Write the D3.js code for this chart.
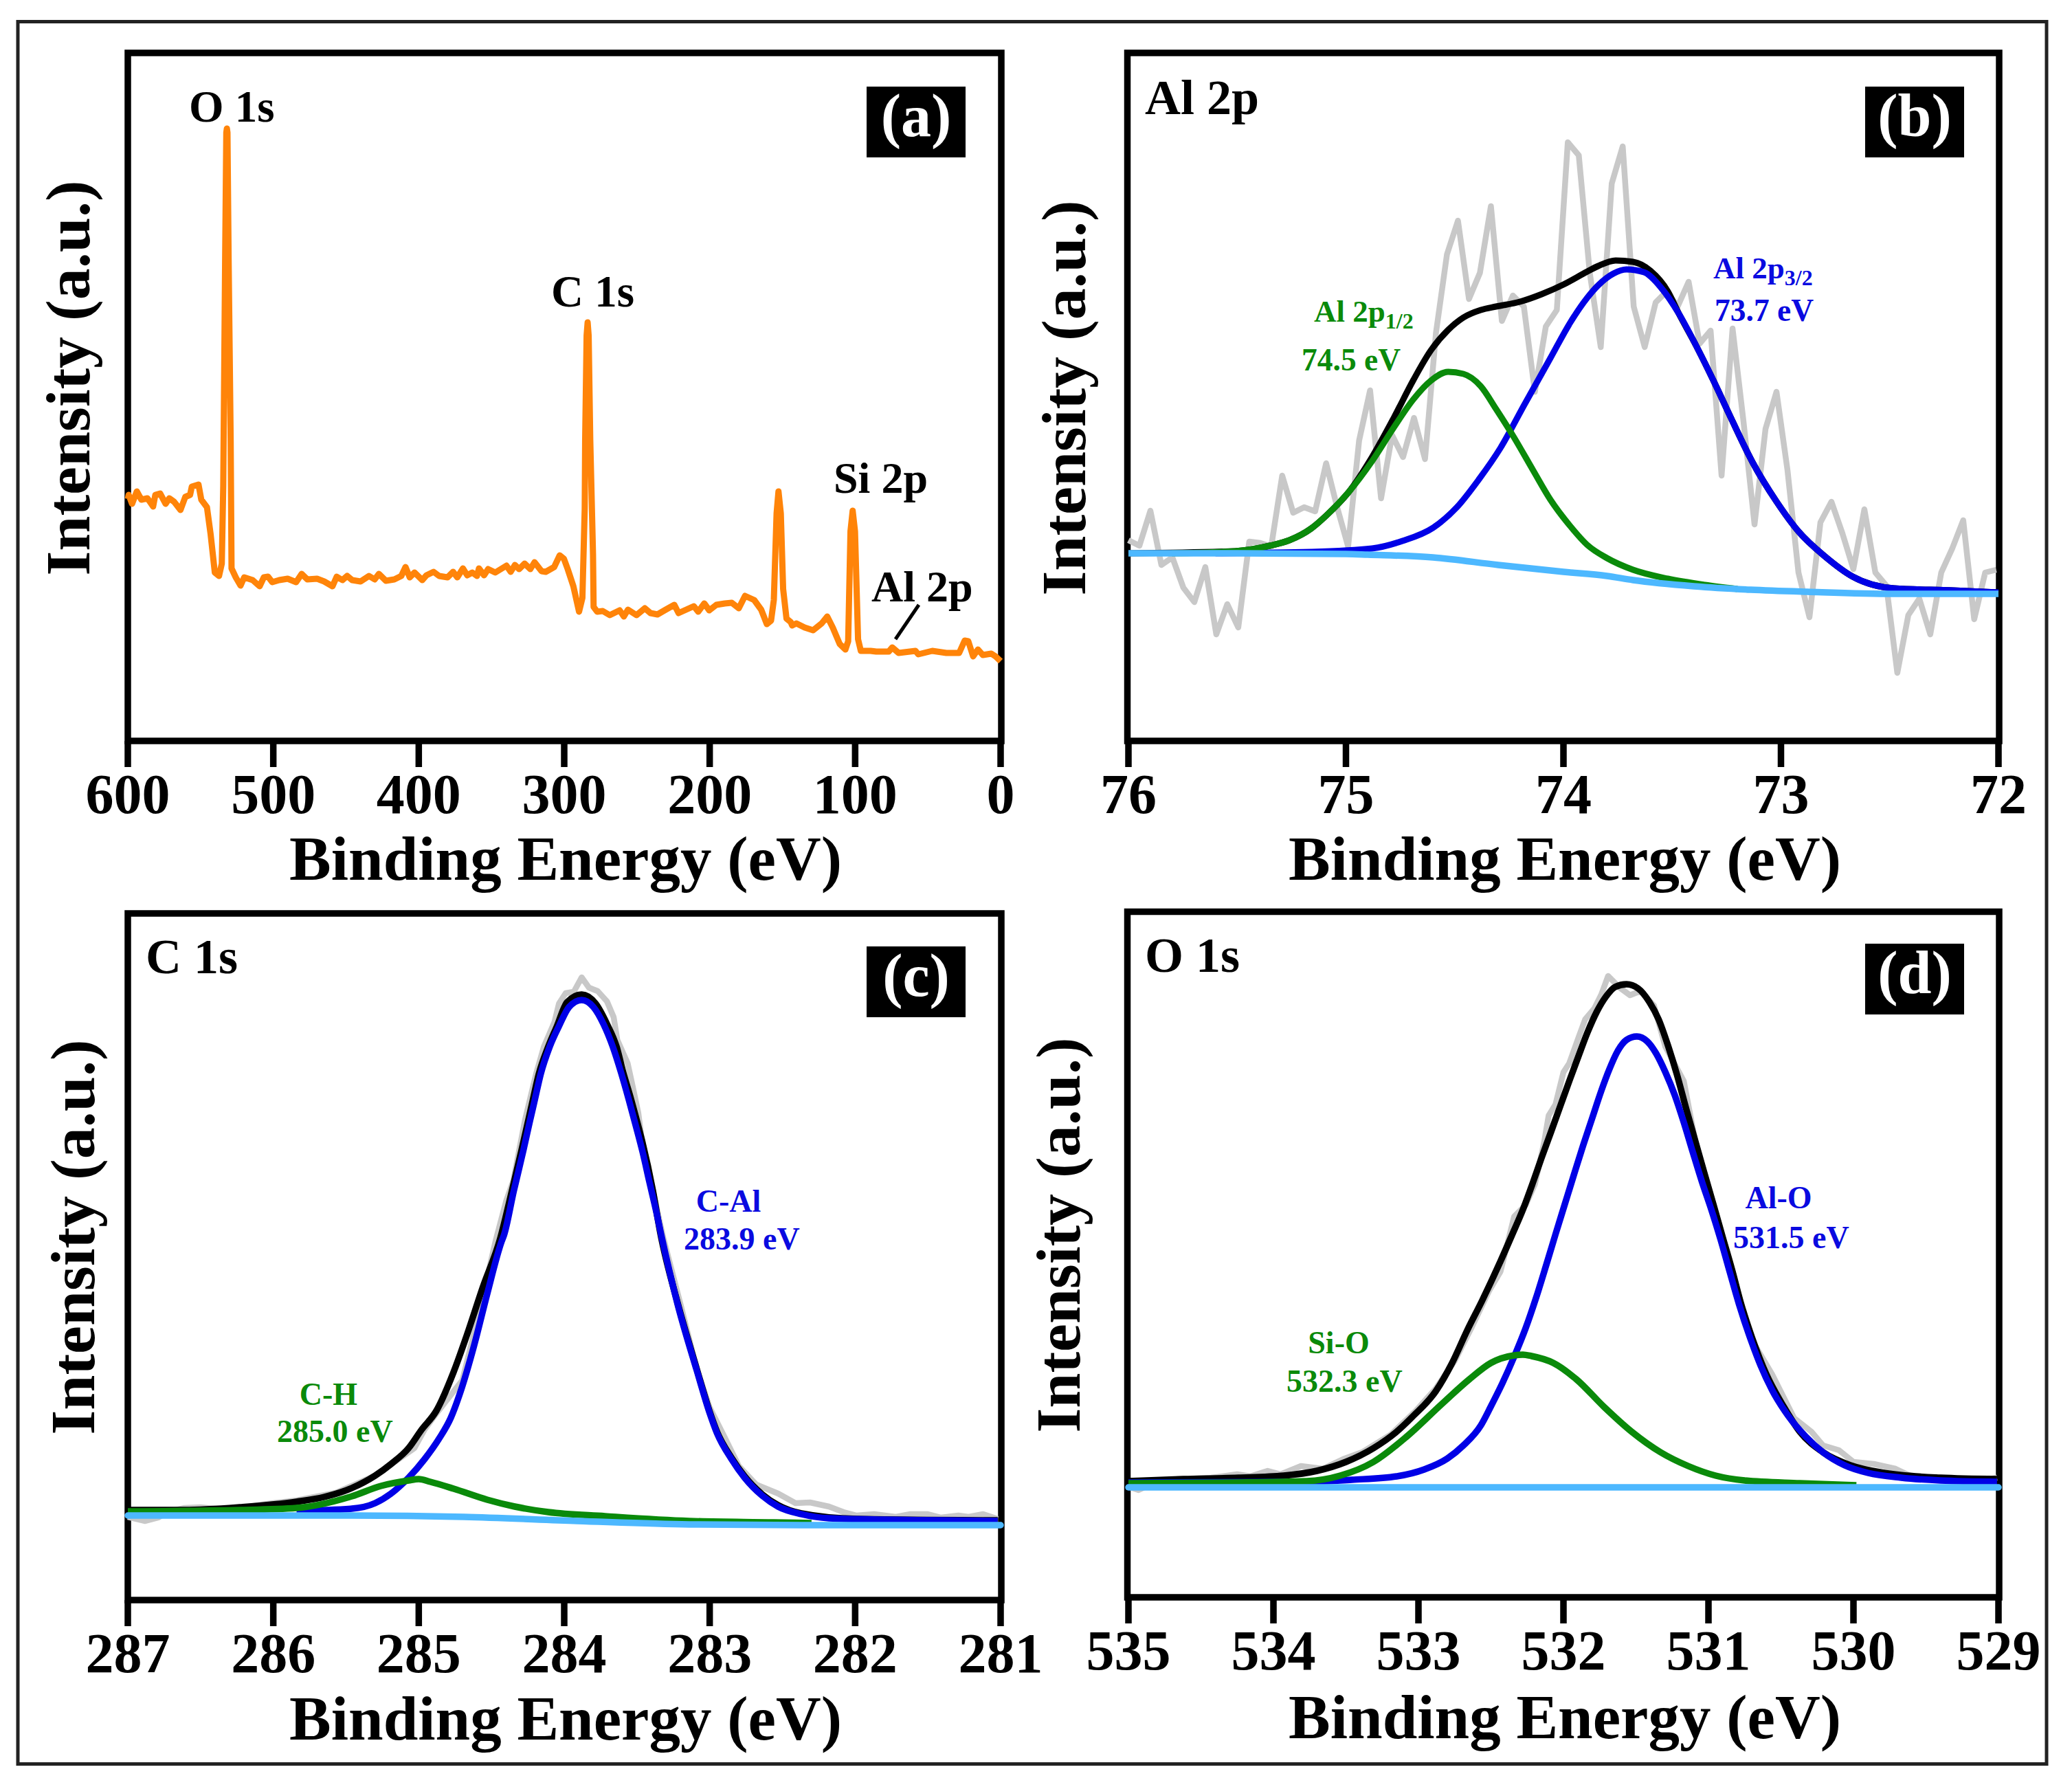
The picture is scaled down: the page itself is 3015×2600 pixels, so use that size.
<!DOCTYPE html>
<html><head><meta charset="utf-8">
<script src="https://cdnjs.cloudflare.com/ajax/libs/d3/7.8.5/d3.min.js"></script>
<style>html,body{margin:0;padding:0;background:#fff}svg{display:block}text{font-family:"Liberation Serif",serif;font-weight:700}</style>
</head><body><svg id="c" width="3015" height="2600"></svg>
<script>
// ---------- data (binding energy in eV, intensity in a.u.) ----------
const surveySeries = [[600,352],[599.4,358],[597.1,345],[593.8,363],[590.7,351],[586.5,353],[582.6,341],[581.1,358],[577.8,360],[574,345],[571.5,353],[568.2,348],[563.8,336],[560.5,355],[557.2,358],[556,370],[551.4,373],[549.5,351],[545.6,340],[543.1,301],[540.2,245],[537.3,240],[535.4,258],[534.4,371],[533.1,700],[532.3,885],[531.9,891],[531.5,885],[530.7,700],[529.3,438],[528.7,251],[525.8,238],[522.5,226],[520,238],[514.2,234],[509.4,225],[506.5,238],[503.6,239],[500.7,231],[495.9,234],[490.1,236],[484.3,231],[480.5,243],[476.6,235],[469.9,236],[465,232],[459.3,225],[456.4,239],[452.5,234],[449.2,240],[445.8,234],[440,232],[434.2,240],[430.3,235],[427.4,243],[422.6,233],[416.8,235],[412,240],[409.1,253],[406.2,238],[402.9,245],[397.6,234],[394.7,241],[389.8,246],[386,240],[380.2,238],[376.4,246],[373.5,238],[369.6,251],[366.7,241],[363.2,245],[360,240],[358.6,251],[355.1,241],[352.3,250],[347.4,245],[339.7,255],[336.8,246],[333.9,256],[331,250],[327.2,258],[323.3,250],[320.4,260],[315.6,247],[312.7,246],[306.9,253],[303.1,270],[300.2,265],[297.6,250],[293.7,225],[289.8,188],[287.5,208],[285.9,338],[285.6,438],[284.6,590],[283.9,609],[283.2,590],[282.1,438],[280.2,271],[279.8,195],[277.3,188],[273.5,189],[268.7,183],[261.9,190],[259,181],[256.2,191],[250.3,183],[244.6,193],[240.7,186],[235.9,184],[230.2,191],[224.3,198],[221.4,186],[210.9,196],[207.9,188],[203.7,200],[200.3,190],[195.4,198],[189.6,200],[184.8,201],[180,193],[175.7,211],[169.4,205],[164.6,191],[160.7,170],[157.8,175],[155.9,205],[154,331],[152.7,363],[151.1,331],[149.5,221],[147.2,178],[144.3,173],[143.3,168],[140.4,171],[134.7,165],[128.9,161],[123,171],[119.2,181],[115.4,165],[110.6,141],[106.7,133],[104.8,145],[103.2,305],[101.7,335],[100.1,305],[98,148],[96.1,131],[89.4,131],[85.5,130],[76.9,130],[74.5,136],[70.1,128],[58.5,131],[56.6,126],[47,131],[37.3,128],[28.5,128],[24.7,146],[22.2,145],[18.9,123],[15.6,133],[12.2,125],[6.4,127],[3.5,123],[0,116]];

const alRawStep = 0.0505;
const alRawValues = [292,284,335,256,267,223,202,253,155,199,165,290,288,283,386,332,340,334,404,340,283,437,510,353,445,413,470,410,594,708,757,643,681,778,611,648,632,508,603,627,871,852,681,573,811,865,632,573,638,654,632,668,578,597,386,600,464,315,454,508,394,245,180,318,348,302,250,337,245,226,99,183,207,155,245,280,321,177,245,249];
const alEnvelope = [[76,273],[75.51,276],[75.35,284],[75.26,292],[75.16,309],[75.09,328],[74.99,361],[74.88,413],[74.78,470],[74.69,525],[74.61,568],[74.53,598],[74.46,616],[74.38,627],[74.31,632],[74.2,639],[74.1,650],[74,664],[73.89,683],[73.84,691],[73.76,699],[73.68,697],[73.6,684],[73.52,654],[73.47,622],[73.39,575],[73.31,524],[73.23,470],[73.13,405],[73.02,348],[72.92,305],[72.8,269],[72.67,239],[72.48,222],[72.21,219],[72,216]];
const al2p32 = [[75.6,273],[75.16,275],[74.88,280],[74.74,291],[74.6,310],[74.49,340],[74.39,380],[74.29,426],[74.18,489],[74.06,557],[73.97,608],[73.89,645],[73.84,663],[73.77,680],[73.71,686],[73.63,682],[73.55,659],[73.47,622],[73.39,575],[73.31,524],[73.23,470],[73.13,405],[73.02,348],[72.92,305],[72.8,269],[72.67,239],[72.48,222],[72.21,219],[72,216]];
const al2p12 = [[75.8,273],[75.51,276],[75.35,284],[75.26,292],[75.16,309],[75.09,328],[74.99,361],[74.88,407],[74.78,456],[74.69,497],[74.61,524],[74.53,537],[74.46,534],[74.38,516],[74.31,483],[74.23,443],[74.14,394],[74.06,351],[73.97,313],[73.89,285],[73.8,266],[73.68,249],[73.52,236],[73.35,227],[73.2,221]];
const alBackground = [[76,273],[75.5,273],[75,272],[74.9,271],[74.6,267],[74.3,256],[74,246],[73.8,240],[73.68,234],[73.4,225],[73.14,220],[72.88,217],[72.48,214],[72,214]];

const cRaw = [[287,121],[286.88,115],[286.79,120],[286.73,128],[286.61,134],[286.5,135],[286.31,131],[286.04,140],[285.84,145],[285.57,156],[285.3,181],[285.03,221],[284.96,248],[284.88,271],[284.7,320],[284.6,405],[284.47,524],[284.4,580],[284.35,610],[284.27,698],[284.194,765],[284.14,805],[284.067,841],[284.036,868],[283.99,883],[283.934,885],[283.88,906],[283.83,891],[283.77,886],[283.706,871],[283.66,848],[283.635,815],[283.564,781],[283.53,748],[283.49,708],[283.47,675],[283.39,595],[283.32,528],[283.2,430],[283.09,337],[283,280],[282.9,238],[282.8,195],[282.68,168],[282.53,155],[282.41,141],[282.31,142],[282.18,136],[282.08,128],[281.99,123],[281.87,125],[281.72,121],[281.62,125],[281.5,125],[281.41,120],[281.29,123],[281.22,121],[281.12,125],[281.02,118]];
const cEnvelope = [[287,131],[286.61,131],[286.23,135],[285.84,143],[285.65,150],[285.46,163],[285.3,181],[285.19,198],[285.07,221],[284.98,248],[284.88,275],[284.76,332],[284.67,385],[284.56,455],[284.44,526],[284.36,595],[284.293,655],[284.25,695],[284.215,728],[284.175,765],[284.11,805],[284.05,835],[283.98,870],[283.88,881],[283.785,868],[283.706,838],[283.64,805],[283.595,768],[283.54,728],[283.39,595],[283.34,535],[283.22,432],[283.09,337],[283,274],[282.95,245],[282.85,207],[282.76,180],[282.64,154],[282.53,138],[282.37,126],[281.99,118],[281.02,116]];
const cAl = [[285.84,130],[285.46,133],[285.3,141],[285.19,155],[285.07,178],[284.96,205],[284.86,235],[284.78,265],[284.71,305],[284.62,370],[284.53,445],[284.43,522],[284.414,531],[284.347,595],[284.28,655],[284.238,695],[284.202,728],[284.162,765],[284.1,805],[284.036,835],[283.966,863],[283.88,873],[283.8,863],[283.73,838],[283.666,805],[283.61,768],[283.556,728],[283.509,691],[283.46,651],[283.414,608],[283.367,565],[283.335,533],[283.22,430],[283.09,335],[283,272],[282.95,243],[282.85,205],[282.76,178],[282.64,152],[282.53,136],[282.37,125],[282.18,119],[281.8,117],[281.41,116],[281.02,115]];
const cH = [[287,129],[286.23,131],[285.84,134],[285.46,151],[285.26,166],[285.07,174],[285,176],[284.92,172],[284.76,162],[284.53,146],[284.34,136],[284.11,128],[283.72,122],[283.14,115],[282.56,113],[282.3,112]];
const cBackground = [[287,123],[285.46,123],[284.69,121],[283.91,115],[283.14,110],[282.37,109],[281,109]];

const oRaw = [[535,161],[534.93,156],[534.85,164],[534.66,172],[534.43,174],[534.25,179],[534.16,176],[534.04,184],[533.95,179],[533.81,191],[533.66,187],[533.52,201],[533.39,211],[533.19,237],[533.02,271],[532.88,304],[532.75,344],[532.63,394],[532.51,447],[532.434,474],[532.387,514],[532.34,554],[532.26,571],[532.197,601],[532.134,661],[532.102,701],[532.055,717],[532,764],[531.96,777],[531.897,814],[531.85,841],[531.786,857],[531.739,877],[531.692,904],[531.612,887],[531.541,876],[531.47,882],[531.376,861],[531.297,801],[531.17,751],[531.091,664],[531.028,617],[530.965,571],[530.902,524],[530.838,477],[530.775,427],[530.7,374],[530.56,324],[530.41,261],[530.29,241],[530.21,221],[530.1,214],[530,197],[529.86,194],[529.71,187],[529.61,177],[529.4,172],[529.09,171],[529.01,174]];
const oEnvelope = [[535,169],[534.62,172],[534.24,174],[533.93,177],[533.7,184],[533.5,197],[533.31,217],[533.15,241],[533.04,263],[532.88,300],[532.77,340],[532.66,390],[532.56,432],[532.497,460],[532.434,489],[532.355,527],[532.276,566],[532.213,602],[532.15,640],[532.086,677],[532.023,714],[531.96,751],[531.897,787],[531.834,822],[531.77,852],[531.707,874],[531.644,888],[531.565,892],[531.486,886],[531.407,866],[531.344,841],[531.281,804],[531.218,761],[531.154,711],[531.091,664],[531.028,617],[530.965,571],[530.902,524],[530.838,477],[530.775,427],[530.7,378],[530.6,324],[530.48,277],[530.37,241],[530.21,211],[530.02,192],[529.79,181],[529.4,174],[529.01,172]];
const oAl = [[535,167],[533.77,168],[533.46,171],[533.15,176],[532.96,186],[532.8,202],[532.69,221],[532.57,250],[532.5,278],[532.42,312],[532.34,350],[532.26,392],[532.19,435],[532.118,484],[532.055,528],[531.992,571],[531.929,614],[531.865,657],[531.802,697],[531.739,737],[531.684,768],[531.628,794],[531.565,811],[531.494,816],[531.423,809],[531.36,791],[531.297,764],[531.233,731],[531.17,691],[531.107,647],[531.044,604],[530.98,564],[530.917,521],[530.854,474],[530.79,427],[530.7,370],[530.64,337],[530.56,301],[530.45,264],[530.33,234],[530.21,211],[530.06,192],[529.9,181],[529.67,174],[529.4,170],[529.01,168]];
const oSi = [[535,166],[534.24,167],[533.77,169],[533.54,177],[533.31,197],[533.08,234],[532.84,281],[532.65,317],[532.5,341],[532.34,352],[532.28,353],[532.22,351],[532.07,341],[531.91,317],[531.72,277],[531.53,241],[531.33,211],[531.14,191],[530.95,177],[530.75,170],[530.37,166],[529.98,163]];
const oBackground = [[535,160],[532,160],[529,160]];

const ticksA = [600,500,400,300,200,100,0];
const ticksB = [76,75,74,73,72];
const ticksC = [287,286,285,284,283,282,281];
const ticksD = [535,534,533,532,531,530,529];

const GRAY="#c8c8c8",BLACK="#000",BLUE="#0000e6",GREEN="#0a8a0a",SKY="#4db8ff",ORANGE="#ff8409";
const TBLUE="#0a0ae0",TGREEN="#0a8a0a";

const svg=d3.select("#c");
svg.append("rect").attr("width",3015).attr("height",2600).attr("fill","#fff");
svg.append("rect").attr("x",26).attr("y",31.5).attr("width",2952).attr("height",2535).attr("fill","none").attr("stroke","#222").attr("stroke-width",5);

function text(g,s,x,y,size,fill,anchor){
  return g.append("text").attr("x",x).attr("y",y).attr("font-size",size).attr("fill",fill||"#000").attr("text-anchor",anchor||"start").text(s);
}
function sub(g,a,b,x,y,size,subSize,fill){
  const t=g.append("text").attr("x",x).attr("y",y).attr("font-size",size).attr("fill",fill);
  t.append("tspan").text(a);
  t.append("tspan").attr("dy",size*0.22).attr("font-size",subSize).text(b);
}

function panel(o){
  const g=svg.append("g");
  const x=d3.scaleLinear().domain(o.xDom).range([o.l,o.r]);
  const y=d3.scaleLinear().domain([0,o.b-o.t]).range([o.b,o.t]);
  g.append("rect").attr("x",o.fl).attr("y",o.t).attr("width",o.fr-o.fl).attr("height",o.b-o.t).attr("fill","none").attr("stroke","#000").attr("stroke-width",9.5);
  const ax=d3.axisBottom(x).tickValues(o.ticks).tickFormat(d3.format("d")).tickSize(38).tickPadding(o.pad).offset(0);
  const a=g.append("g").attr("transform",`translate(0,${o.b})`).call(ax);
  a.select(".domain").remove();
  a.selectAll("line").attr("stroke","#000").attr("stroke-width",9.5);
  a.selectAll("text").attr("font-size",82).attr("fill","#000").attr("font-family",'"Liberation Serif",serif');
  text(g,"Binding Energy (eV)",o.xlX,o.xlY,91,"#000","middle");
  g.append("text").attr("transform",`translate(${o.ylX},${o.ylY}) rotate(-90)`).attr("font-size",92).attr("text-anchor","middle").attr("fill","#000").text("Intensity (a.u.)");
  g.append("rect").attr("x",o.badge[0]).attr("y",o.badge[1]).attr("width",144).attr("height",103).attr("fill","#000");
  text(g,o.tag,o.badge[0]+72,o.badge[1]+72,88,"#fff","middle");
  o.series.forEach(s=>{
    const line=d3.line().x(d=>x(d[0])).y(d=>y(d[1])).curve(s.smooth?d3.curveMonotoneX:d3.curveLinear);
    g.append("path").attr("d",line(s.data)).attr("fill","none").attr("stroke",s.color).attr("stroke-width",s.w).attr("stroke-linejoin","round").attr("stroke-linecap",s.cap||"butt");
  });
  return g;
}

// (a) survey
const ga=panel({xDom:[600,0],l:186,r:1456,fl:186,fr:1457,t:77,b:1078,ticks:ticksA,pad:9,xlX:823,xlY:1280,ylX:130,ylY:550,badge:[1261,126],tag:"(a)",
  series:[{data:surveySeries,color:ORANGE,w:9}]});
text(ga,"O 1s",275,177,65);
text(ga,"C 1s",802,446,65);
text(ga,"Si 2p",1213,717,64);
text(ga,"Al 2p",1268,875,64);
ga.append("line").attr("x1",1337).attr("y1",880).attr("x2",1303).attr("y2",930).attr("stroke","#000").attr("stroke-width",5);

// (b) Al 2p
const alRaw=alRawValues.map((v,i)=>[76-i*alRawStep,v]);
const gb=panel({xDom:[76,72],l:1642,r:2908,fl:1640.5,fr:2909,t:77,b:1078,ticks:ticksB,pad:9,xlX:2277,xlY:1280,ylX:1579,ylY:579,badge:[2714,126],tag:"(b)",
  series:[{data:alRaw,color:GRAY,w:8.5},
          {data:alEnvelope,color:BLACK,w:9,smooth:true},
          {data:al2p32,color:BLUE,w:9,smooth:true},
          {data:al2p12,color:GREEN,w:9,smooth:true},
          {data:alBackground,color:SKY,w:9.5,smooth:true}]});
text(gb,"Al 2p",1666,166,72);
sub(gb,"Al 2p","1/2",1912,468,45,32,TGREEN);
text(gb,"74.5 eV",1894,539,45.5,TGREEN);
sub(gb,"Al 2p","3/2",2493,405,45,32,TBLUE);
text(gb,"73.7 eV",2495,467,45.5,TBLUE);

// (c) C 1s
const gc=panel({xDom:[287,281],l:186,r:1456,fl:186,fr:1457,t:1329,b:2328,ticks:ticksC,pad:9,xlX:823,xlY:2531,ylX:137,ylY:1800,badge:[1261,1377],tag:"(c)",
  series:[{data:cRaw,color:GRAY,w:8.5},
          {data:cEnvelope,color:BLACK,w:9.5,smooth:true},
          {data:cAl,color:BLUE,w:9.5,smooth:true},
          {data:cH,color:GREEN,w:9.5,smooth:true},
          {data:cBackground,color:SKY,w:9.5,smooth:true,cap:"round"}]});
text(gc,"C 1s",212,1416,72);
text(gc,"C-H",478,2044,46,TGREEN,"middle");
text(gc,"285.0 eV",403,2098,46,TGREEN);
text(gc,"C-Al",1060,1763,46,TBLUE,"middle");
text(gc,"283.9 eV",995,1818,46,TBLUE);

// (d) O 1s
const gd=panel({xDom:[535,529],l:1642,r:2908,fl:1640.5,fr:2909,t:1326.5,b:2324,ticks:ticksD,pad:9,xlX:2277,xlY:2529,ylX:1571,ylY:1797,badge:[2714,1373],tag:"(d)",
  series:[{data:oRaw,color:GRAY,w:8.5},
          {data:oEnvelope,color:BLACK,w:9.5,smooth:true},
          {data:oAl,color:BLUE,w:9.5,smooth:true},
          {data:oSi,color:GREEN,w:9.5,smooth:true},
          {data:oBackground,color:SKY,w:9.5,cap:"round"}]});
text(gd,"O 1s",1666,1414,72);
text(gd,"Al-O",2588,1758,46,TBLUE,"middle");
text(gd,"531.5 eV",2522,1816,46,TBLUE);
text(gd,"Si-O",1948,1969,46,TGREEN,"middle");
text(gd,"532.3 eV",1872,2025,46,TGREEN);
</script></body></html>
